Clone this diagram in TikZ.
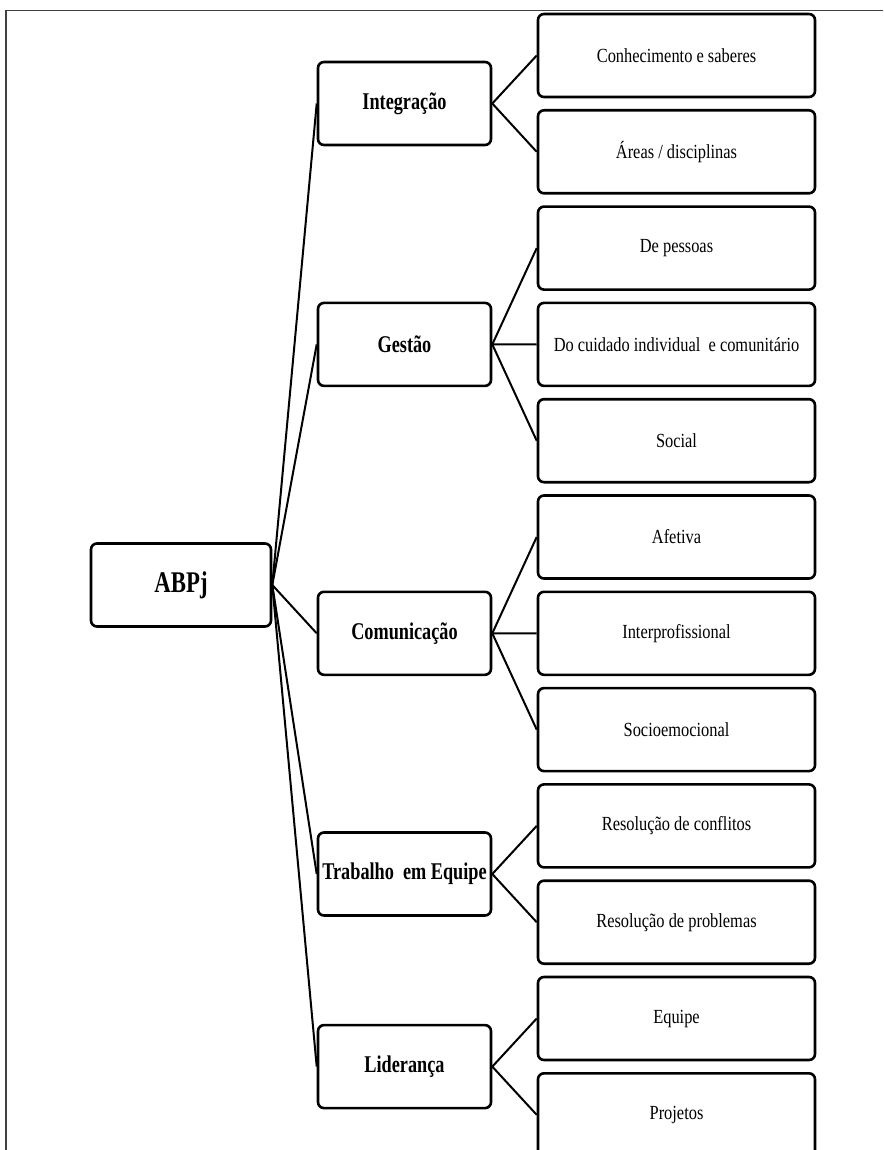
\documentclass[tikz,border=0pt]{standalone}
\usepackage{fontspec}
\setmainfont{Liberation Serif}[FakeStretch=0.82]
\newfontfamily\negrito{Liberation Serif}[FakeStretch=0.76]
\begin{document}
\begin{tikzpicture}[x=1pt,y=-1pt,
  caixa/.style={draw,line width=2.6pt,rounded corners=6pt,minimum height=83pt,inner sep=0pt,align=center},
  raiz/.style={caixa,minimum width=180pt,font=\negrito\bfseries\fontsize{30}{34}\selectfont},
  tema/.style={caixa,minimum width=173pt,font=\negrito\bfseries\fontsize{24}{28}\selectfont},
  folha/.style={caixa,minimum width=277pt,font=\fontsize{20}{24}\selectfont},
  liga/.style={line width=2pt}]
\useasboundingbox (0,0) rectangle (883,1150);
\clip (0,0) rectangle (883,1150);
\draw[line width=1.5pt,black!75] (6,10.5) rectangle (900,1170);

\node[raiz] (abpj) at (181,585) {ABPj};
\node[tema] (integ) at (404.5,103.5) {Integração};
\node[tema] (gestao) at (404.5,344.4) {Gestão};
\node[tema] (comun) at (404.5,633.3) {Comunicação};
\node[tema] (trab) at (404.5,874) {Trabalho\ \ em Equipe};
\node[tema] (lider) at (404.5,1066.6) {Liderança};

\foreach \t [count=\k from 0] in {Conhecimento e saberes,Áreas / disciplinas,De pessoas,Do cuidado individual\ \ e comunitário,Social,Afetiva,Interprofissional,Socioemocional,Resolução de conflitos,Resolução de problemas,Equipe,Projetos}
  \node[folha] (f\k) at (676.5,55.5+96.3*\k) {\t};

\foreach \m in {integ,gestao,comun,trab,lider} \draw[liga] (abpj.east) -- (\m.west);
\foreach \m/\f in {integ/0,integ/1,gestao/2,gestao/3,gestao/4,comun/5,comun/6,comun/7,trab/8,trab/9,lider/10,lider/11}
  \draw[liga] (\m.east) -- (f\f.west);
\end{tikzpicture}
\end{document}
